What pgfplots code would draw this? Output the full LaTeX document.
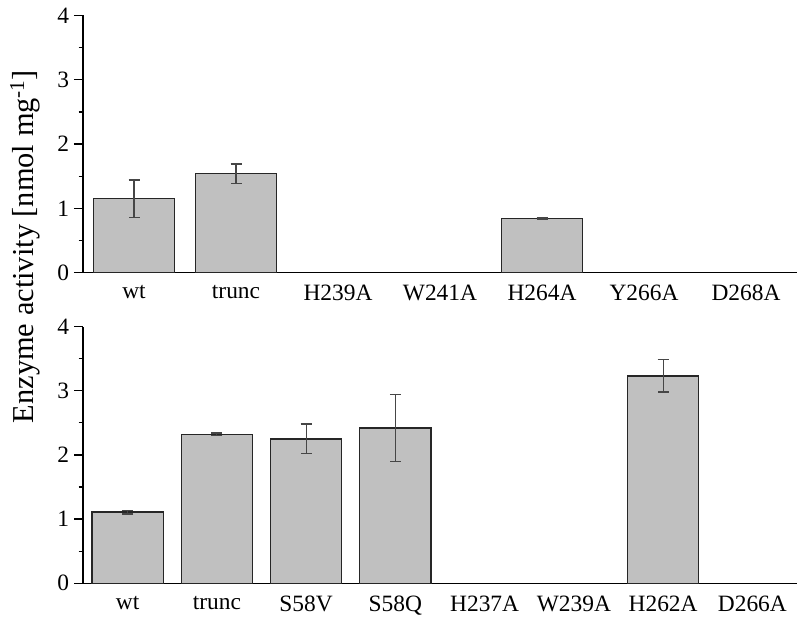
\documentclass[border=0pt]{standalone}
\usepackage{pgfplots}
\pgfplotsset{compat=1.18}
\usepackage{pgfplotstable}
\usepackage{fontspec}
\setmainfont{Liberation Serif}
\definecolor{barfill}{RGB}{192,192,192}
\definecolor{errc}{RGB}{70,70,70}
\pgfplotstableread{
x y e
0 1.15 0.29
1 1.54 0.15
4 0.846 0.01
}\toptab
\pgfplotstableread{
x y e
0 1.11 0.03
1 2.32 0.02
2 2.25 0.23
3 2.42 0.52
6 3.23 0.25
}\bottab
\pgfplotsset{
 panel/.style={
  scale only axis, width=714bp,
  axis x line=bottom, axis y line=left,
  axis line style={-, line width=1.5bp, black},
  xmin=-0.5, ymin=0, ymax=4,
  ytick={0,1,2,3,4}, minor ytick={0.5,1.5,2.5,3.5},
  tick align=outside,
  major tick length=9bp, minor tick length=4.5bp,
  every tick/.style={line width=1.3bp, black},
  xtick style={draw=none},
  tick label style={font=\fontsize{23.5}{27}\selectfont},
  yticklabel style={xshift=-1.5bp},
  /pgf/number format/assume math mode=true,
  ybar, bar width=0.8,
 },
 barsty/.style={fill=barfill, draw=black!85, line width=1.3bp,
  error bars/.cd, y dir=both, y explicit,
  error bar style={line width=1.2bp, color=errc},
  error mark options={rotate=90, mark size=5.5bp, line width=1.2bp, color=errc}},
}
\begin{document}
\begin{tikzpicture}
\path[use as bounding box] (0,0) rectangle (799bp,617bp);
\begin{axis}[panel, at={(83bp,344.3bp)}, anchor=south west, height=257.3bp,
  xmax=6.5, xtick={0,...,6},
  xticklabels={wt,trunc,H239A,W241A,H264A,Y266A,D268A}]
\addplot[barsty] table[x=x, y=y, y error=e] {\toptab};
\end{axis}
\begin{axis}[panel, at={(83bp,33.7bp)}, anchor=south west, height=256.8bp,
  xmax=7.5, xtick={0,...,7},
  xticklabels={wt,trunc,S58V,S58Q,H237A,W239A,H262A,D266A}]
\addplot[barsty] table[x=x, y=y, y error=e] {\bottab};
\end{axis}
\node[rotate=90, anchor=base, font=\fontsize{30.5}{35}\selectfont] at (33bp,370.5bp)
  {Enzyme activity [nmol mg\textsuperscript{-1}]};
\end{tikzpicture}
\end{document}
